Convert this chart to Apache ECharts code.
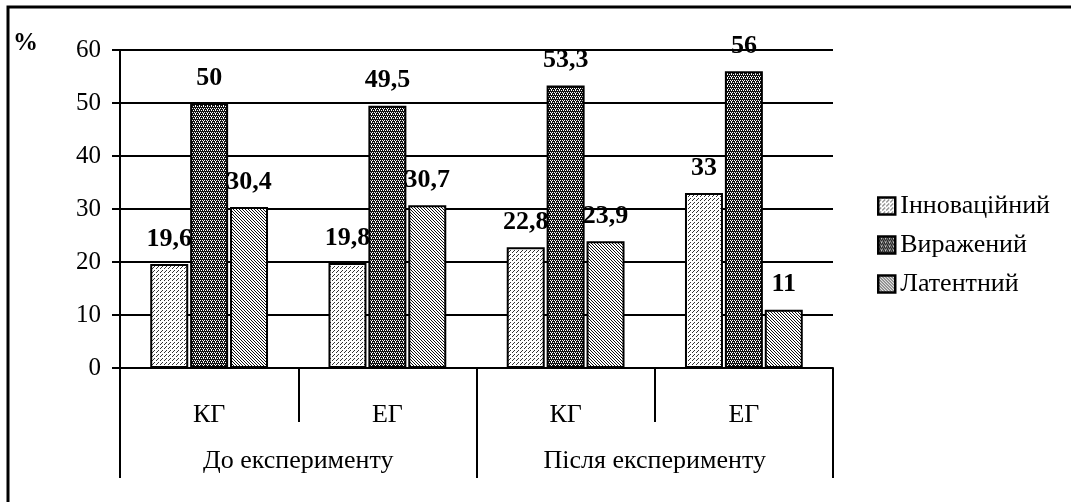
<!DOCTYPE html>
<html>
<head>
<meta charset="utf-8">
<script src="https://cdn.jsdelivr.net/npm/echarts@6/dist/echarts.min.js"></script>
<style>html,body{margin:0;padding:0;background:#fff}#c{width:1071px;height:502px}</style>
</head>
<body>
<div id="c"></div>
<script>
const groups = ['КГ', 'ЕГ', 'КГ', 'ЕГ'];
const phases = ['До експерименту', 'Після експерименту'];
const seriesNames = ['Інноваційний', 'Виражений', 'Латентний'];
const innovative = [19.6, 19.8, 22.8, 33];
const expressed = [50, 49.5, 53.3, 56];
const latent = [30.4, 30.7, 23.9, 11];
const yTicks = [0, 10, 20, 30, 40, 50, 60];

function makePattern(size, bg, fg, pts) {
  const c = document.createElement('canvas');
  c.width = size; c.height = size;
  const ctx = c.getContext('2d');
  ctx.fillStyle = bg; ctx.fillRect(0, 0, size, size);
  ctx.fillStyle = fg;
  pts.forEach(p => ctx.fillRect(p[0], p[1], 1, 1));
  return { image: c, repeat: 'repeat' };
}
const pat1 = makePattern(4, '#ffffff', '#333333', [[0,0],[2,2],[1,3]]);
const pat2 = makePattern(4, '#111111', '#ffffff', [[0,0],[2,0],[1,2],[3,2],[3,1]]);
const pat3 = makePattern(3, '#ffffff', '#111111', [[0,0],[1,1],[2,2]]);
const patterns = [pat1, pat2, pat3];
const values = [innovative, expressed, latent];

const font = '"Liberation Serif", "Times New Roman", serif';
const chart = echarts.init(document.getElementById('c'), null, { renderer: 'canvas' });

chart.setOption({
  animation: false,
  backgroundColor: '#ffffff',
  textStyle: { fontFamily: font, color: '#000' },
  graphic: [
    { type: 'rect', shape: { x: 8, y: 7, width: 1200, height: 600 }, style: { fill: 'none', stroke: '#000', lineWidth: 3 }, z: 100 },
    { type: 'text', left: 13, top: 31, style: { text: '%', font: 'bold 25px ' + font, fill: '#000' } }
  ],
  legend: {
    orient: 'vertical',
    left: 872,
    top: 188,
    itemWidth: 17,
    itemHeight: 17,
    itemGap: 13,
    icon: 'rect',
    itemStyle: { borderWidth: 2.5, borderColor: '#000' },
    textStyle: { fontFamily: font, fontSize: 26, color: '#000', padding: [0, 0, 0, 0] },
    data: seriesNames
  },
  grid: { left: 120, right: 238, top: 50, bottom: 134, containLabel: false },
  xAxis: [
    {
      type: 'category',
      data: groups,
      position: 'bottom',
      axisLine: { show: true, lineStyle: { color: '#000', width: 2 } },
      axisTick: { show: true, interval: 0, length: 54, lineStyle: { color: '#000', width: 2 } },
      axisLabel: { margin: 34, fontFamily: font, fontSize: 26, color: '#000' }
    },
    {
      type: 'category',
      data: phases,
      position: 'bottom',
      axisLine: { show: false },
      axisTick: { show: true, interval: 0, length: 110, lineStyle: { color: '#000', width: 2 } },
      axisLabel: { margin: 80, fontFamily: font, fontSize: 26, color: '#000' }
    }
  ],
  yAxis: {
    type: 'value',
    min: 0,
    max: 60,
    interval: 10,
    axisLine: { show: true, lineStyle: { color: '#000', width: 2 } },
    axisTick: { show: true, length: 8, lineStyle: { color: '#000', width: 2 } },
    axisLabel: { margin: 19, fontFamily: font, fontSize: 25, color: '#000',
      formatter: v => yTicks.indexOf(v) >= 0 ? String(v) : '' },
    splitLine: { show: true, lineStyle: { color: '#000', width: 2 } }
  },
  series: seriesNames.map((name, i) => ({
    name: name,
    type: 'bar',
    xAxisIndex: 0,
    barWidth: 38,
    barGap: '5%',
    data: values[i],
    itemStyle: { color: patterns[i], borderColor: '#000', borderWidth: 2 },
    label: {
      show: true,
      position: 'top',
      distance: 12,
      fontFamily: font,
      fontWeight: 'bold',
      fontSize: 26,
      color: '#000',
      formatter: p => String(p.value).replace('.', ',')
    },
    z: 3
  }))
});
</script>
</body>
</html>
